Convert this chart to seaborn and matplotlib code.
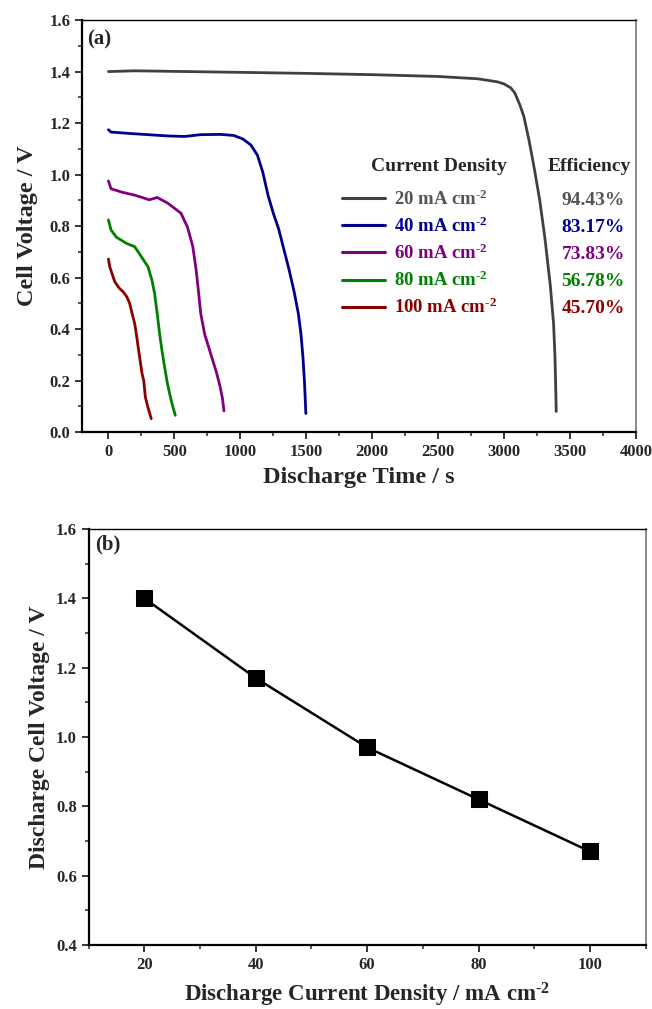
import numpy as np
import pandas as pd
import matplotlib
matplotlib.use("Agg")
import matplotlib.pyplot as plt
from matplotlib.ticker import MultipleLocator, FormatStrFormatter
import seaborn as sns

# ---------------- data ----------------
densities = [20, 40, 60, 80, 100]                     # mA cm^-2
efficiencies = ["94.43%", "83.17%", "73.83%", "56.78%", "45.70%"]

t20 = [0, 200, 600, 1000, 1500, 2000, 2500, 2800, 2950, 3000, 3050, 3080, 3120,
       3150, 3190, 3230, 3270, 3310, 3350, 3375, 3385, 3390, 3395]
v20 = [1.400, 1.403, 1.400, 1.397, 1.393, 1.388, 1.381, 1.372, 1.360, 1.352,
       1.337, 1.318, 1.270, 1.225, 1.130, 1.020, 0.900, 0.750, 0.570, 0.420,
       0.300, 0.200, 0.080]

t40 = [0, 20, 150, 300, 450, 580, 700, 850, 950, 1020, 1080, 1130, 1170, 1210,
       1250, 1290, 1330, 1370, 1410, 1440, 1460, 1475, 1487, 1497]
v40 = [1.174, 1.165, 1.160, 1.155, 1.150, 1.148, 1.155, 1.156, 1.152, 1.138,
       1.115, 1.075, 1.010, 0.920, 0.850, 0.790, 0.710, 0.630, 0.540, 0.460,
       0.380, 0.290, 0.190, 0.072]

t60 = [0, 20, 100, 200, 310, 370, 450, 550, 600, 640, 665, 680, 700, 730, 760,
       790, 820, 845, 865, 876]
v60 = [0.975, 0.945, 0.932, 0.920, 0.902, 0.911, 0.889, 0.850, 0.795, 0.720,
       0.630, 0.560, 0.460, 0.380, 0.330, 0.280, 0.230, 0.180, 0.130, 0.082]

t80 = [0, 20, 60, 136, 199, 250, 300, 330, 350, 370, 388, 405, 426, 445, 464,
       485, 507]
v80 = [0.824, 0.785, 0.757, 0.733, 0.720, 0.681, 0.642, 0.590, 0.539, 0.460,
       0.383, 0.320, 0.253, 0.195, 0.149, 0.105, 0.065]

t100 = [0, 10, 48, 80, 111, 140, 161, 180, 199, 215, 229, 255, 268, 280, 300, 325]
v100 = [0.672, 0.642, 0.584, 0.560, 0.545, 0.525, 0.500, 0.460, 0.422, 0.370,
        0.318, 0.227, 0.200, 0.136, 0.095, 0.052]

mean_voltage = [1.40, 1.17, 0.97, 0.82, 0.67]          # V

line_colors = ["#404040", "#00008b", "#800080", "#008000", "#8b0000"]
text_colors = ["#555555", "#000090", "#800080", "#008000", "#8b0000"]

# ---------------- style ----------------
sns.set_style("ticks")
plt.rcParams["font.family"] = ["Liberation Serif", "DejaVu Serif"]
plt.rcParams["font.weight"] = "bold"
plt.rcParams["axes.labelweight"] = "bold"
plt.rcParams["mathtext.fontset"] = "custom"
plt.rcParams["mathtext.rm"] = "Liberation Serif:bold"
plt.rcParams["mathtext.it"] = "Liberation Serif:bold"
plt.rcParams["mathtext.bf"] = "Liberation Serif:bold"
plt.rcParams["mathtext.default"] = "rm"

labels = [f"{d} mA cm$^{{\\text{{-2}}}}$" for d in densities]
series = [(t20, v20), (t40, v40), (t60, v60), (t80, v80), (t100, v100)]
df = pd.concat(
    [pd.DataFrame({"t": t, "V": v, "label": lab}) for (t, v), lab in zip(series, labels)],
    ignore_index=True,
)

fig = plt.figure(figsize=(6.52, 10.09), dpi=100)
ax1 = fig.add_axes([0.1258, 0.5718, 0.8497, 0.4083])
ax2 = fig.add_axes([0.1360, 0.0634, 0.8543, 0.4123])


def style_axes(ax):
    for side in ("left", "bottom"):
        ax.spines[side].set_linewidth(1.6)
        ax.spines[side].set_color("black")
    ax.spines["top"].set_linewidth(1.0)
    ax.spines["top"].set_color("black")
    ax.spines["right"].set_linewidth(1.3)
    ax.spines["right"].set_color("#808080")
    ax.tick_params(which="major", direction="out", length=5, width=1.3,
                   labelsize=12, top=False, right=False)
    ax.tick_params(which="minor", direction="out", length=3, width=1.1,
                   top=False, right=False)


def bold_ticks(ax):
    for lab in ax.get_xticklabels() + ax.get_yticklabels():
        lab.set_fontweight("bold")


# ---------------- (a) discharge curves ----------------
sns.lineplot(data=df, x="t", y="V", hue="label", hue_order=labels,
             palette=dict(zip(labels, line_colors)), estimator=None, sort=False,
             linewidth=2.0, ax=ax1)
ax1.set_xlim(-200, 4000)
ax1.set_ylim(0, 1.6)
ax1.xaxis.set_major_locator(MultipleLocator(500))
ax1.xaxis.set_minor_locator(MultipleLocator(250))
ax1.yaxis.set_major_locator(MultipleLocator(0.2))
ax1.yaxis.set_minor_locator(MultipleLocator(0.1))
ax1.yaxis.set_major_formatter(FormatStrFormatter("%.1f"))
ax1.set_xlabel("Discharge Time / s", fontsize=17.5, labelpad=5)
ax1.set_ylabel("Cell Voltage / V", fontsize=17.5, labelpad=8)
style_axes(ax1)
ax1.text(0.009, 0.978, "(a)", transform=ax1.transAxes, fontsize=15,
         fontweight="bold", va="top", ha="left")

handles, _ = ax1.get_legend_handles_labels()
for h in handles:
    h.set_linewidth(2.2)
leg = ax1.legend(handles, labels, loc="upper left", bbox_to_anchor=(0.469, 0.589),
                 frameon=False, fontsize=13.5, handlelength=2.3, handletextpad=0.5,
                 labelspacing=0.41, borderpad=0, borderaxespad=0)
for txt, c in zip(leg.get_texts(), text_colors):
    txt.set_color(c)
    txt.set_fontweight("bold")

ax1.text(0.645, 0.644, "Current Density", transform=ax1.transAxes, fontsize=14,
         fontweight="bold", ha="center", va="center")
ax1.text(0.915, 0.644, "Efficiency", transform=ax1.transAxes, fontsize=14,
         fontweight="bold", ha="center", va="center")

# efficiency column, aligned with each legend row
fig.canvas.draw()
inv = ax1.transAxes.inverted()
for txt, eff, c in zip(leg.get_texts(), efficiencies, text_colors):
    bb = txt.get_window_extent()
    _, y_ax = inv.transform((0, bb.y0))
    ax1.text(0.980, y_ax, eff, transform=ax1.transAxes, fontsize=14,
             fontweight="bold", color=c, ha="right", va="bottom")

# ---------------- (b) mean voltage vs current density ----------------
sns.lineplot(x=densities, y=mean_voltage, color="black", linewidth=1.8,
             marker="s", markersize=11, markeredgecolor="black", ax=ax2)
ax2.set_xlim(10, 110)
ax2.set_ylim(0.4, 1.6)
ax2.xaxis.set_major_locator(MultipleLocator(20))
ax2.xaxis.set_minor_locator(MultipleLocator(10))
ax2.yaxis.set_major_locator(MultipleLocator(0.2))
ax2.yaxis.set_minor_locator(MultipleLocator(0.1))
ax2.yaxis.set_major_formatter(FormatStrFormatter("%.1f"))
ax2.set_xlabel("Discharge Current Density / mA cm$^{\\text{-2}}$", fontsize=16.5,
               labelpad=6)
ax2.set_ylabel("Discharge Cell Voltage / V", fontsize=17, labelpad=4)
style_axes(ax2)
ax2.text(0.011, 0.986, "(b)", transform=ax2.transAxes, fontsize=15,
         fontweight="bold", va="top", ha="left")

fig.canvas.draw()
bold_ticks(ax1)
bold_ticks(ax2)

fig.savefig("out.png", dpi=100, facecolor="white")
